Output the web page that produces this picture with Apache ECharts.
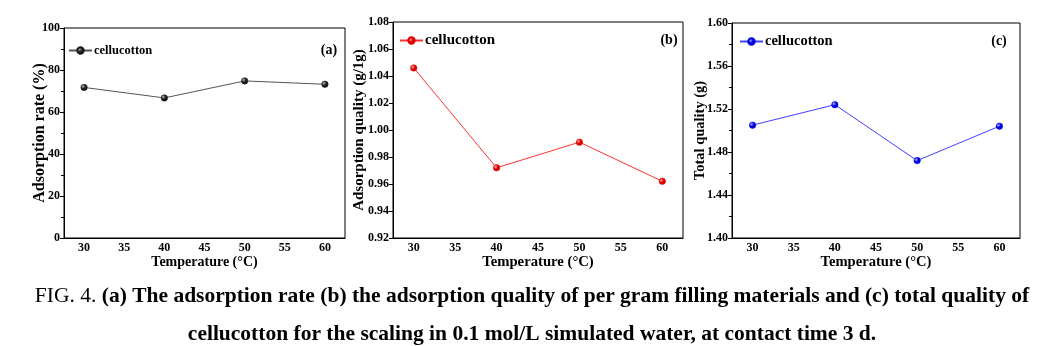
<!DOCTYPE html>
<html>
<head>
<meta charset="utf-8">
<script src="https://cdn.jsdelivr.net/npm/echarts@6/dist/echarts.min.js"></script>
<style>
html,body{margin:0;padding:0;background:#fff;}
#chart{width:1062px;height:346px;}
</style>
</head>
<body>
<div id="chart"></div>
<script>
// ---- data ----
const temperatures = [30, 40, 50, 60];
const adsorptionRate = [71.7, 66.7, 74.8, 73.2];          // (a) %
const adsorptionQuality = [1.046, 0.972, 0.991, 0.962];   // (b) g/1g
const totalQuality = [1.505, 1.524, 1.472, 1.504];        // (c) g
const xTickValues = [30, 35, 40, 45, 50, 55, 60];
const legendLabel = 'cellucotton';
const panelLabels = ['(a)', '(b)', '(c)'];
const yNames = ['Adsorption rate (%)', 'Adsorption quality (g/1g)', 'Total quality (g)'];
const xName = 'Temperature (°C)';
const captionLine1Prefix = 'FIG. 4. ';
const captionLine1 = '(a) The adsorption rate (b) the adsorption quality of per gram filling materials and (c) total quality of';
const captionLine2 = 'cellucotton for the scaling in 0.1 mol/L simulated water, at contact time 3 d.';

const FONT = "'Liberation Serif','Times New Roman',serif";
const pts = arr => temperatures.map((t, i) => [t, arr[i]]);

function ball(base, light) {
  return {
    type: 'radial', x: 0.35, y: 0.35, r: 0.75,
    colorStops: [{offset: 0, color: light}, {offset: 0.45, color: base}, {offset: 1, color: base}]
  };
}

const grids = [
  {left: 64, right: 717, top: 28, bottom: 108},
  {left: 393, right: 379, top: 22, bottom: 108},
  {left: 732, right: 42, top: 23, bottom: 108}
].map(g => Object.assign(g, {show: true, borderColor: '#000', borderWidth: 1, backgroundColor: 'transparent'}));

const xNameSize = [14, 14.7, 14.6];
const xAxes = [0, 1, 2].map(i => ({
  type: 'value', gridIndex: i, min: 27.5, max: 62.5,
  name: xName, nameLocation: 'middle', nameGap: 17, nameMoveOverlap: false,
  nameTextStyle: {fontFamily: FONT, fontWeight: 'bold', fontSize: xNameSize[i], color: '#000'},
  axisLine: {lineStyle: {color: '#000', width: 1}},
  axisTick: {show: false},
  axisLabel: {customValues: xTickValues, fontFamily: FONT, fontWeight: 'bold', fontSize: 12, color: '#000', margin: 4},
  splitLine: {show: false}
}));

const yCommon = (i, min, max, interval, minor, fmt, gap, nameSize) => ({
  type: 'value', gridIndex: i, min, max, interval,
  name: yNames[i], nameLocation: 'middle', nameRotate: 90, nameGap: gap, nameMoveOverlap: false,
  nameTextStyle: {fontFamily: FONT, fontWeight: 'bold', fontSize: nameSize, color: '#000'},
  axisLine: {show: true, lineStyle: {color: '#000', width: 1}},
  axisTick: {show: true, inside: false, length: 4, lineStyle: {color: '#000'}},
  minorTick: {show: minor, splitNumber: 2, length: 3, lineStyle: {color: '#000'}},
  axisLabel: {fontFamily: FONT, fontWeight: 'bold', fontSize: 12, color: '#000', margin: 4, formatter: fmt},
  splitLine: {show: false}, minorSplitLine: {show: false}
});

const yAxes = [
  yCommon(0, 0, 100, 20, true, v => String(Math.round(v)), 16, 16),
  yCommon(1, 0.92, 1.08, 0.02, false, v => v.toFixed(2), 26, 15),
  yCommon(2, 1.40, 1.60, 0.04, true, v => v.toFixed(2), 24, 14.5)
];

const colors = [
  {line: '#555555', base: '#1a1a1a', light: '#bbbbbb'},
  {line: '#ff3030', base: '#e00000', light: '#ffb0b0'},
  {line: '#4040ff', base: '#0000e0', light: '#b0b0ff'}
];
const values = [adsorptionRate, adsorptionQuality, totalQuality];
const seriesNames = ['cellucotton (a)', 'cellucotton (b)', 'cellucotton (c)'];

const series = values.map((v, i) => ({
  name: seriesNames[i], type: 'line', xAxisIndex: i, yAxisIndex: i,
  data: pts(v), symbol: 'circle', symbolSize: 6.5,
  lineStyle: {color: colors[i].line, width: 1},
  itemStyle: {color: ball(colors[i].base, colors[i].light), borderColor: colors[i].base, borderWidth: 0.5},
  emphasis: {disabled: true}, animation: false
}));

const legendPos = [
  {left: 68, top: 44, fs: 12.5},
  {left: 399, top: 33, fs: 15},
  {left: 739, top: 34, fs: 14.5}
];
const legends = legendPos.map((p, i) => ({
  data: [seriesNames[i]], left: p.left, top: p.top,
  itemWidth: 23, itemHeight: 8, itemGap: 0, padding: 0,
  formatter: () => legendLabel,
  textStyle: {fontFamily: FONT, fontWeight: 'bold', fontSize: p.fs, color: '#000', padding: [0, 0, 0, -3]},
  selectedMode: false
}));

const labelPos = [[329, 50], [669, 40], [999, 41]];
const graphics = labelPos.map((p, i) => ({
  type: 'text', x: p[0], y: p[1],
  style: {text: panelLabels[i], fontFamily: FONT, fontWeight: 'bold', fontSize: 14, fill: '#000', align: 'center', verticalAlign: 'middle'}
}));
graphics.push({
  type: 'text', x: 532, y: 296,
  style: {
    text: '{n|' + captionLine1Prefix + '}{b|' + captionLine1 + '}',
    align: 'center', verticalAlign: 'middle',
    rich: {
      n: {fontFamily: FONT, fontWeight: 'normal', fontSize: 21.5, fill: '#000'},
      b: {fontFamily: FONT, fontWeight: 'bold', fontSize: 21.5, fill: '#000'}
    }
  }
});
graphics.push({
  type: 'text', x: 532, y: 334,
  style: {text: captionLine2, fontFamily: FONT, fontWeight: 'bold', fontSize: 21.5, fill: '#000', align: 'center', verticalAlign: 'middle'}
});

const chart = echarts.init(document.getElementById('chart'), null, {renderer: 'canvas'});
chart.setOption({
  backgroundColor: '#fff',
  animation: false,
  grid: grids, xAxis: xAxes, yAxis: yAxes, series, legend: legends, graphic: graphics
});
</script>
</body>
</html>
